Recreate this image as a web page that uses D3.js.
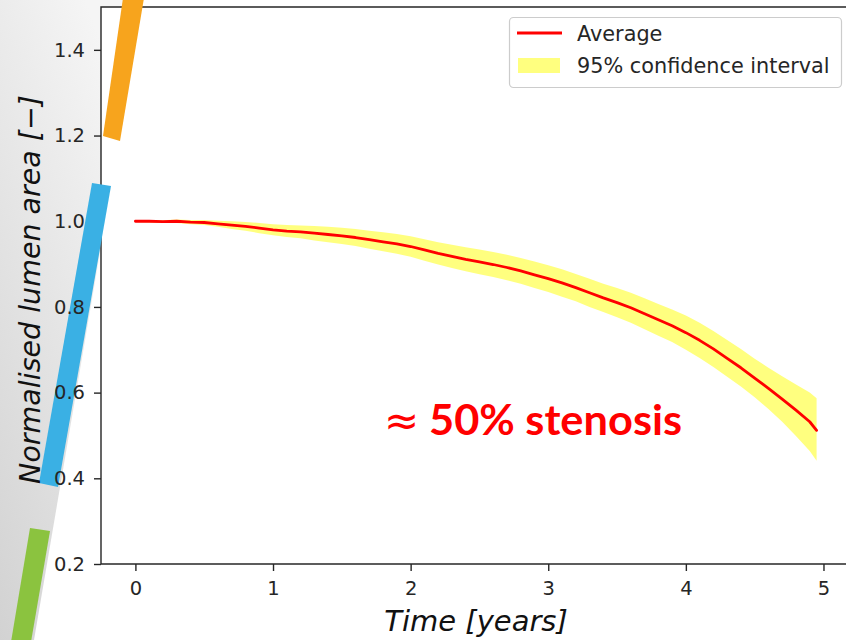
<!DOCTYPE html>
<html>
<head>
<meta charset="utf-8">
<script src="https://cdn.jsdelivr.net/npm/d3@7"></script>
<style>
  html, body { margin: 0; padding: 0; background: #ffffff; }
  svg { display: block; }
</style>
</head>
<body>
<svg id="chart" width="846" height="640"></svg>
<script>
// Simulated lumen area over time (normalised to the initial area)
const years = [0.0, 0.1, 0.2, 0.3, 0.4, 0.5, 0.6, 0.7, 0.8, 0.9,
               1.0, 1.1, 1.2, 1.3, 1.4, 1.5, 1.6, 1.7, 1.8, 1.9,
               2.0, 2.1, 2.2, 2.3, 2.4, 2.5, 2.6, 2.7, 2.8, 2.9,
               3.0, 3.1, 3.2, 3.3, 3.4, 3.5, 3.6, 3.7, 3.8, 3.9,
               4.0, 4.1, 4.2, 4.3, 4.4, 4.5, 4.6, 4.7, 4.8, 4.9, 4.95];

const average = [1.000, 1.000, 0.999, 1.000, 0.998, 0.997, 0.994, 0.991, 0.988, 0.984,
                 0.980, 0.977, 0.975, 0.972, 0.969, 0.966, 0.962, 0.957, 0.952, 0.947,
                 0.941, 0.933, 0.925, 0.918, 0.911, 0.905, 0.899, 0.892, 0.884, 0.875,
                 0.866, 0.856, 0.845, 0.833, 0.821, 0.810, 0.798, 0.784, 0.770, 0.756,
                 0.740, 0.722, 0.702, 0.680, 0.658, 0.634, 0.610, 0.585, 0.559, 0.532, 0.512];

const upper95 = [1.002, 1.003, 1.002, 1.004, 1.003, 1.003, 1.001, 1.000, 0.998, 0.996,
                 0.993, 0.991, 0.990, 0.989, 0.987, 0.985, 0.982, 0.978, 0.974, 0.970,
                 0.965, 0.958, 0.951, 0.945, 0.939, 0.934, 0.928, 0.922, 0.914, 0.906,
                 0.897, 0.888, 0.877, 0.866, 0.854, 0.844, 0.833, 0.820, 0.807, 0.794,
                 0.780, 0.763, 0.744, 0.723, 0.702, 0.679, 0.658, 0.638, 0.619, 0.600, 0.587];

const lower95 = [0.998, 0.997, 0.996, 0.996, 0.993, 0.991, 0.987, 0.982, 0.978, 0.972,
                 0.967, 0.963, 0.960, 0.955, 0.951, 0.947, 0.942, 0.936, 0.930, 0.924,
                 0.917, 0.908, 0.899, 0.891, 0.883, 0.876, 0.870, 0.862, 0.854, 0.844,
                 0.835, 0.824, 0.813, 0.800, 0.788, 0.776, 0.763, 0.748, 0.733, 0.718,
                 0.700, 0.681, 0.660, 0.637, 0.614, 0.589, 0.562, 0.532, 0.499, 0.464, 0.441];

const xTicks = [0, 1, 2, 3, 4, 5];
const yTicks = [0.2, 0.4, 0.6, 0.8, 1.0, 1.2, 1.4];
const xLimits = [-0.25, 5.2];
const yLimits = [0.2, 1.5];

const xTitle = "Time [years]";
const yTitle = "Normalised lumen area [\u2212]";
const legendLabels = ["Average", "95% confidence interval"];
const annotationSymbol = "\u2248";
const annotationText = "50% stenosis";

// ---- layout ----
const W = 846, H = 640;
const plot = { left: 101, top: 7, right: 851, bottom: 564 };
const ink = "#262626";
const lineColor = "#ff0000";
const bandColor = "yellow";

const svg = d3.select("#chart");
const defs = svg.append("defs");

// slide backdrop: grey wash on the left, behind the figure
const grad = defs.append("linearGradient")
  .attr("id", "wash").attr("x1", "0").attr("y1", "1").attr("x2", "0.6").attr("y2", "0");
grad.append("stop").attr("offset", "0").attr("stop-color", "#d2d2d2");
grad.append("stop").attr("offset", "1").attr("stop-color", "#f5f5f5");

svg.append("rect").attr("width", W).attr("height", H).attr("fill", "#ffffff");
svg.append("path")
  .attr("d", d3.line()([[0, 0], [143, 0], [34, H], [0, H]]) + "Z")
  .attr("fill", "url(#wash)");

const x = d3.scaleLinear().domain(xLimits).range([plot.left, plot.right]);
const y = d3.scaleLinear().domain(yLimits).range([plot.bottom, plot.top]);

defs.append("clipPath").attr("id", "plotClip")
  .append("rect")
  .attr("x", plot.left).attr("y", plot.top)
  .attr("width", plot.right - plot.left).attr("height", plot.bottom - plot.top);

// axes background
svg.append("rect")
  .attr("x", plot.left).attr("y", plot.top)
  .attr("width", plot.right - plot.left).attr("height", plot.bottom - plot.top)
  .attr("fill", "#ffffff");

// ---- data ----
const rows = years.map((t, i) => ({ t, avg: average[i], hi: upper95[i], lo: lower95[i] }));
const dataG = svg.append("g").attr("clip-path", "url(#plotClip)");

dataG.append("path")
  .datum(rows)
  .attr("d", d3.area().x(d => x(d.t)).y0(d => y(d.lo)).y1(d => y(d.hi)))
  .attr("fill", bandColor).attr("fill-opacity", 0.5);

dataG.append("path")
  .datum(rows)
  .attr("d", d3.line().x(d => x(d.t)).y(d => y(d.avg)))
  .attr("fill", "none").attr("stroke", lineColor)
  .attr("stroke-width", 2.8).attr("stroke-linejoin", "round").attr("stroke-linecap", "round");

// ---- spines and tick marks ----
const spineG = svg.append("g").attr("stroke", ink).attr("stroke-width", 1.4).attr("fill", "none");
spineG.append("path").attr("d", `M${plot.left},${plot.bottom}V${plot.top}H${W + 5}`);
spineG.append("path").attr("d", `M${plot.left},${plot.bottom}H${W + 5}`);

svg.append("g")
  .attr("transform", `translate(0,${plot.bottom})`)
  .call(d3.axisBottom(x).tickValues(xTicks).tickSize(7).tickFormat(() => ""))
  .call(g => g.select(".domain").remove())
  .call(g => g.selectAll("line").attr("stroke", ink).attr("stroke-width", 1.4));

svg.append("g")
  .attr("transform", `translate(${plot.left},0)`)
  .call(d3.axisLeft(y).tickValues(yTicks).tickSize(7).tickFormat(() => ""))
  .call(g => g.select(".domain").remove())
  .call(g => g.selectAll("line").attr("stroke", ink).attr("stroke-width", 1.4));

// ---- slide accent stripes ----
const accents = [
  { color: "#f7a41d", pts: [[123, -2], [144, -2], [120, 141], [103, 136]] },
  { color: "#3ab0e4", pts: [[92, 183], [111, 186], [58, 487], [39, 483]] },
  { color: "#8bc33f", pts: [[30, 528], [50, 531], [31, 642], [11, 642]] }
];
svg.append("g").selectAll("path").data(accents).join("path")
  .attr("d", d => d3.line()(d.pts) + "Z")
  .attr("fill", d => d.color);

// ---- tick labels ----
const font = "'DejaVu Sans', sans-serif";
svg.append("g")
  .attr("transform", `translate(0,${plot.bottom})`)
  .call(d3.axisBottom(x).tickValues(xTicks).tickSize(0).tickPadding(17).tickFormat(d3.format("d")))
  .call(g => g.select(".domain").remove())
  .call(g => g.selectAll("line").remove())
  .call(g => g.selectAll("text").attr("fill", ink).style("font-family", font).style("font-size", "19.5px"));

svg.append("g")
  .attr("transform", `translate(${plot.left},0)`)
  .call(d3.axisLeft(y).tickValues(yTicks).tickSize(0).tickPadding(16).tickFormat(d3.format(".1f")))
  .call(g => g.select(".domain").remove())
  .call(g => g.selectAll("line").remove())
  .call(g => g.selectAll("text").attr("fill", ink).style("font-family", font).style("font-size", "19.5px"));

// ---- axis titles ----
svg.append("text")
  .attr("x", (plot.left + plot.right) / 2).attr("y", 631)
  .attr("text-anchor", "middle")
  .attr("fill", "#111")
  .style("font-family", font).style("font-style", "italic").style("font-size", "29px")
  .text(xTitle);

svg.append("text")
  .attr("transform", `translate(40,${(plot.top + plot.bottom) / 2 + 4}) rotate(-90)`)
  .attr("text-anchor", "middle")
  .attr("fill", "#111")
  .style("font-family", font).style("font-style", "italic").style("font-size", "28.5px")
  .text(yTitle);

// ---- legend ----
const lg = svg.append("g");
lg.append("rect")
  .attr("x", 509.5).attr("y", 17.5).attr("width", 332).attr("height", 70).attr("rx", 4)
  .attr("fill", "#ffffff").attr("fill-opacity", 0.8)
  .attr("stroke", "#cccccc").attr("stroke-width", 1.2);
lg.append("line")
  .attr("x1", 517).attr("x2", 562).attr("y1", 33).attr("y2", 33)
  .attr("stroke", lineColor).attr("stroke-width", 2.8);
lg.append("rect")
  .attr("x", 518).attr("y", 58).attr("width", 42).attr("height", 15)
  .attr("fill", bandColor).attr("fill-opacity", 0.5);
lg.selectAll("text.lab").data(legendLabels).join("text")
  .attr("class", "lab")
  .attr("x", 577).attr("y", (d, i) => 41 + i * 32)
  .attr("fill", ink)
  .style("font-family", font).style("font-size", "20.8px")
  .text(d => d);

// ---- annotation ----
const note = svg.append("text")
  .attr("x", 384).attr("y", 435)
  .attr("fill", "#ff0000")
  .style("font-size", "42px");
note.append("tspan")
  .style("font-family", "'DejaVu Sans', sans-serif")
  .style("font-weight", "normal")
  .text(annotationSymbol);
note.append("tspan")
  .attr("x", 429)
  .attr("textLength", 253).attr("lengthAdjust", "spacingAndGlyphs")
  .style("font-family", "Lato, 'Open Sans', sans-serif")
  .style("font-weight", "bold")
  .text(annotationText);
</script>
</body>
</html>
